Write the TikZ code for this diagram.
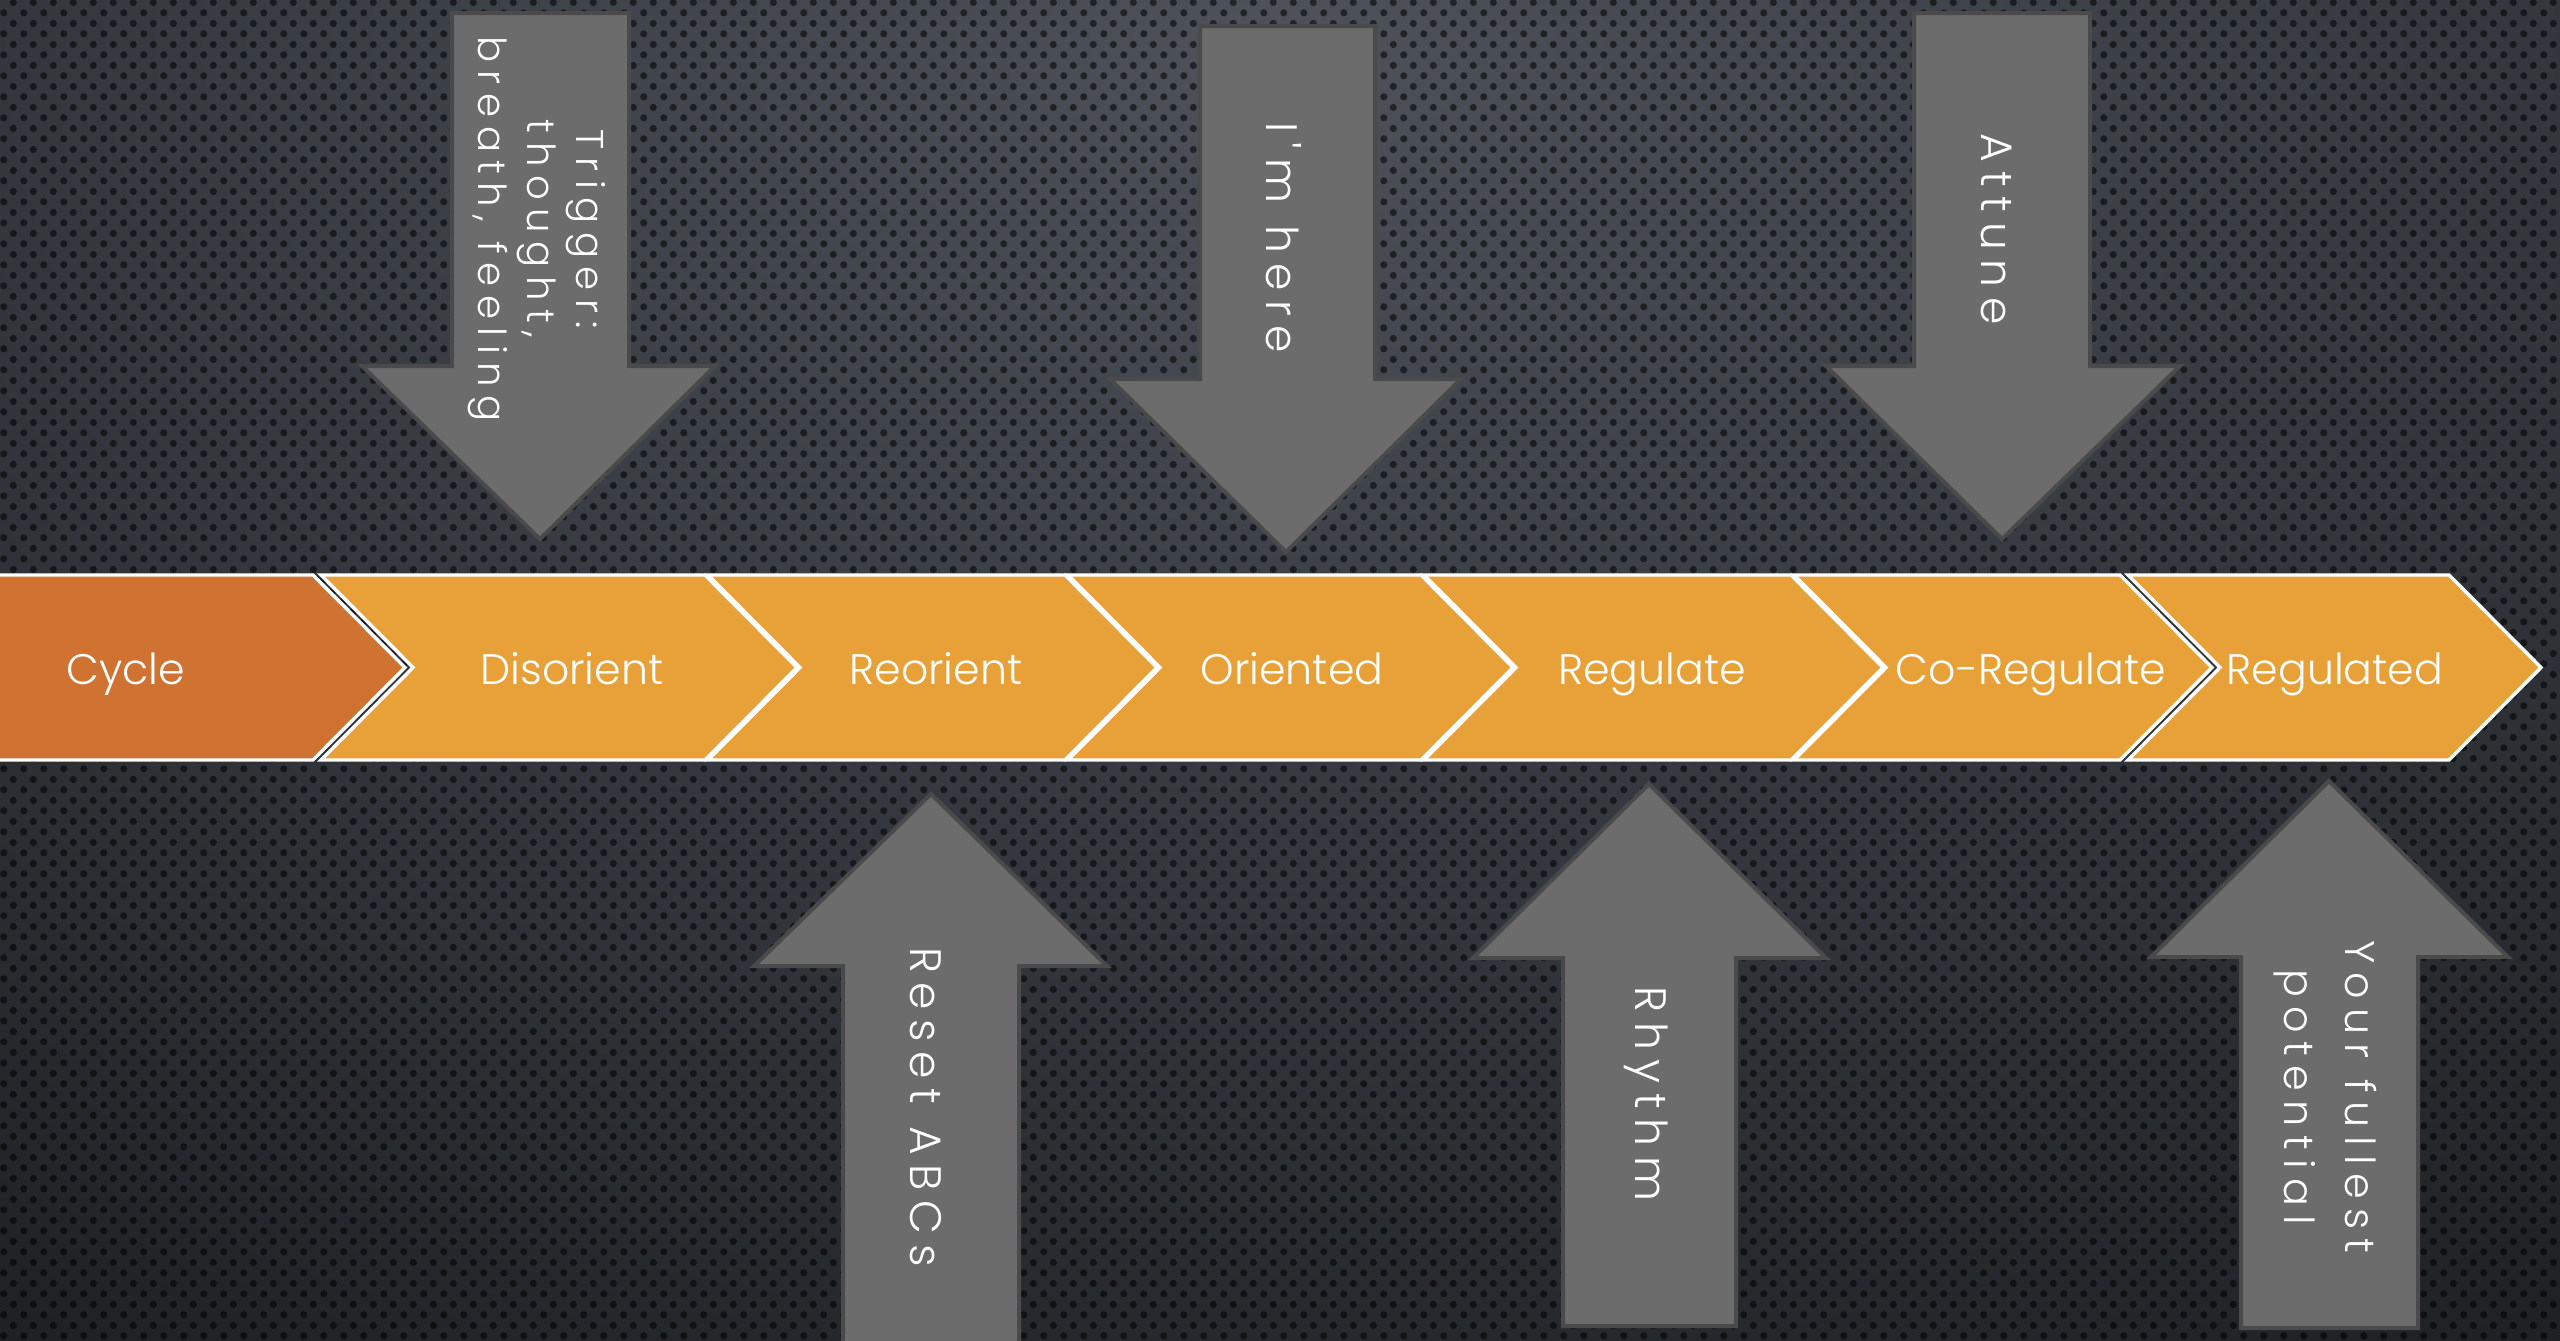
\documentclass[tikz,border=0pt]{standalone}
\usepackage{fontspec}
\setmainfont{Poppins Light}
\newfontfamily\trackfont{Poppins Light}[LetterSpace=22]
\usetikzlibrary{patterns.meta}
\definecolor{bglight}{HTML}{4D525B}
\definecolor{bgdark}{HTML}{111214}
\definecolor{arrowfill}{HTML}{6C6C6C}
\definecolor{arrowline}{HTML}{4A4A4A}
\definecolor{cyclefill}{HTML}{D07232}
\definecolor{stepfill}{HTML}{E8A139}
\tikzdeclarepattern{
  name=perfdots,
  type=uncolored,
  bounding box={(0pt,0pt) and (15pt,16pt)},
  tile size={(15pt,16pt)},
  code={
    \fill (3.75pt,4pt) circle (2.8pt);
    \fill (11.25pt,12pt) circle (2.8pt);
  }
}
\begin{document}
\begin{tikzpicture}[x=0.75pt,y=-0.75pt,
    chev/.style={draw=white, line width=2.6pt, fill=stepfill, line join=miter},
    blockarrow/.style={draw=arrowline, line width=3pt, fill=arrowfill, line join=miter},
    steplabel/.style={text=white, anchor=base, font=\fontsize{32}{38}\selectfont},
    arrowlabel/.style={text=white, rotate=-90, align=center, font=\trackfont\fontsize{33}{40}\selectfont}]
        \useasboundingbox (0,0) rectangle (2560,1340);
        \begin{scope}
        \clip (0,0) rectangle (2560,1340);
        \fill [bgdark] (0,0) rectangle (2560,1340);
        \shade [inner color=bglight, outer color=bgdark] (1280,40) ellipse (3000 and 2000);
        \fill [pattern=perfdots, pattern color=black, opacity=0.55] (0,0) rectangle (2560,1340);
        \end{scope}
        \draw [blockarrow] (452,13) -- (629,13) -- (629,366) -- (715,366) -- (540,539) -- (362,366) -- (452,366) -- cycle ;
        \draw [blockarrow] (1200,26) -- (1375,26) -- (1375,379) -- (1461,379) -- (1286,552) -- (1110,379) -- (1200,379) -- cycle ;
        \draw [blockarrow] (1914,13) -- (2090,13) -- (2090,366) -- (2180,366) -- (2002,539) -- (1826,366) -- (1914,366) -- cycle ;
        \draw [blockarrow] (843,1350) -- (1019,1350) -- (1019,966) -- (1107,966) -- (931,794) -- (754,966) -- (843,966) -- cycle ;
        \draw [blockarrow] (1563,1326) -- (1736,1326) -- (1736,958) -- (1826,958) -- (1649,784) -- (1473,958) -- (1563,958) -- cycle ;
        \draw [blockarrow] (2241,1328) -- (2418,1328) -- (2418,957) -- (2508,957) -- (2329,781) -- (2151,957) -- (2241,957) -- cycle ;
        \draw [chev, fill=cyclefill] (-10,575) -- (313,575) -- (405,667.5) -- (313,760) -- (-10,760) -- cycle ;
        \draw [chev] (321,575) -- (705,575) -- (797,667.5) -- (705,760) -- (321,760) -- (413,667.5) -- cycle ;
        \draw [chev] (708,575) -- (1065,575) -- (1157,667.5) -- (1065,760) -- (708,760) -- (800,667.5) -- cycle ;
        \draw [chev] (1068,575) -- (1421,575) -- (1513,667.5) -- (1421,760) -- (1068,760) -- (1160,667.5) -- cycle ;
        \draw [chev] (1424,575) -- (1791,575) -- (1883,667.5) -- (1791,760) -- (1424,760) -- (1516,667.5) -- cycle ;
        \draw [chev] (1794,575) -- (2120,575) -- (2212,667.5) -- (2120,760) -- (1794,760) -- (1886,667.5) -- cycle ;
        \draw [chev] (2128,575) -- (2449,575) -- (2541,667.5) -- (2449,760) -- (2128,760) -- (2220,667.5) -- cycle ;
        \node [steplabel] (cycle) at (126,684) {Cycle};
        \node [steplabel] (disorient) at (572,684) {Disorient};
        \node [steplabel] (reorient) at (936,684) {Reorient};
        \node [steplabel] (oriented) at (1292,684) {Oriented};
        \node [steplabel] (regulate) at (1652,684) {Regulate};
        \node [steplabel] (coregulate) at (2031,684) {Co-Regulate};
        \node [steplabel] (regulated) at (2335,684) {Regulated};
        \node [arrowlabel, font=\trackfont\fontsize{29}{37}\selectfont] (trigger) at (537,229) {Trigger:\\thought,\\breath, feeling};
        \node [arrowlabel] (imhere) at (1284,238) {I'm here};
        \node [arrowlabel] (attune) at (1996,229) {Attune};
        \node [arrowlabel] (reset) at (926,1107) {Reset ABCs};
        \node [arrowlabel] (rhythm) at (1646,1094) {Rhythm};
        \node [arrowlabel, font=\trackfont\fontsize{31}{46}\selectfont] (potential) at (2325,1097) {Your fullest\\potential};
\end{tikzpicture}
\end{document}
